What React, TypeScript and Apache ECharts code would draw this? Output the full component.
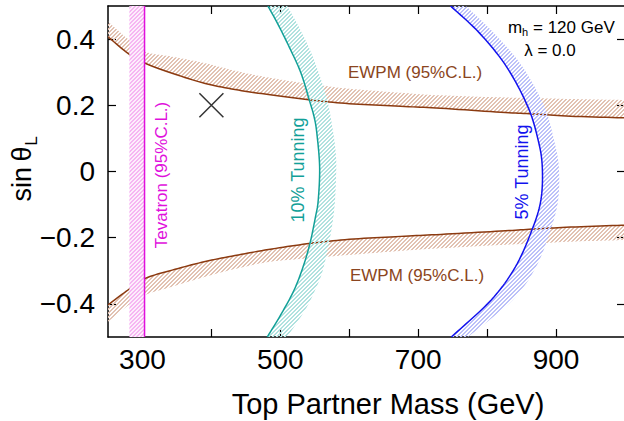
import React, { useEffect, useRef } from "react";
import * as echarts from "echarts";

// ---- axis ticks / labels ----
const xTickValues = [300, 400, 500, 600, 700, 800, 900];
const xLabelValues = [300, 500, 700, 900];
const yTickValues = [-0.4, -0.2, 0, 0.2, 0.4];

// ---- EWPM (95% C.L.) boundaries ----
const ewpmMass = [250, 279, 304, 343, 391, 439, 488, 544, 600, 674, 733, 820, 866, 921, 1000];
const ewpmUpperLine = [0.407, 0.357, 0.327, 0.297, 0.266, 0.246, 0.231, 0.216, 0.205, 0.197, 0.191, 0.179, 0.174, 0.167, 0.162];
const ewpmUpperEdge = [0.453, 0.4, 0.362, 0.347, 0.327, 0.302, 0.282, 0.264, 0.25, 0.238, 0.23, 0.224, 0.222, 0.219, 0.216];
const ewpmLowerLine = [-0.403, -0.358, -0.323, -0.298, -0.272, -0.252, -0.234, -0.217, -0.205, -0.196, -0.19, -0.18, -0.174, -0.168, -0.162];
const ewpmLowerEdge = [-0.454, -0.405, -0.373, -0.348, -0.318, -0.292, -0.272, -0.262, -0.252, -0.24, -0.232, -0.222, -0.218, -0.212, -0.207];

// ---- Tevatron (95% C.L.) ----
const tevatronBand = [281, 303];
const tevatronLine = 303;

// ---- 10% tuning ----
const tune10LineMass = [482, 497, 515, 530, 542, 549, 553, 557, 555, 551, 543, 533, 520, 502, 481];
const tune10LineSin = [0.5, 0.443, 0.367, 0.297, 0.216, 0.165, 0.115, 0.014, -0.086, -0.137, -0.217, -0.288, -0.358, -0.428, -0.5];
const tune10EdgeMass = [510, 526, 543, 557, 568, 575, 580, 581, 577, 563, 550, 536, 510];
const tune10EdgeSin = [0.5, 0.44, 0.367, 0.29, 0.216, 0.14, 0.065, -0.005, -0.137, -0.288, -0.36, -0.418, -0.5];

// ---- 5% tuning ----
const tune5LineMass = [747, 789, 828, 859, 874, 880, 878, 865, 841, 806, 748];
const tune5LineSin = [0.5, 0.418, 0.317, 0.196, 0.095, 0.014, -0.086, -0.177, -0.288, -0.388, -0.5];
const tune5EdgeMass = [769, 810, 851, 883, 897, 904, 903, 892, 871, 837, 772];
const tune5EdgeSin = [0.5, 0.418, 0.317, 0.196, 0.095, 0.014, -0.086, -0.177, -0.288, -0.388, -0.5];

// ---- benchmark point ----
const benchmarkPoint = [[400, 0.2]];

const FONT = "Liberation Sans";

const zip = (xs: number[], ys: number[]) => xs.map((x, i) => [x, ys[i]]);

// Catmull-Rom rendering of a pixel-space polyline (drawing only)
function spline(pts: number[][], seg = 10): number[][] {
  if (pts.length < 3) return pts;
  const out: number[][] = [];
  for (let i = 0; i < pts.length - 1; i++) {
    const p0 = pts[i - 1] || pts[i];
    const p1 = pts[i];
    const p2 = pts[i + 1];
    const p3 = pts[i + 2] || pts[i + 1];
    for (let s = 0; s < seg; s++) {
      const t = s / seg;
      const t2 = t * t;
      const t3 = t2 * t;
      const f = (a: number, b: number, c: number, d: number) =>
        0.5 * (2 * b + (-a + c) * t + (2 * a - 5 * b + 4 * c - d) * t2 + (-a + 3 * b - 3 * c + d) * t3);
      out.push([f(p0[0], p1[0], p2[0], p3[0]), f(p0[1], p1[1], p2[1], p3[1])]);
    }
  }
  out.push(pts[pts.length - 1]);
  return out;
}

// hatch fill pattern (diagonal strokes)
function hatch(color: string, bg: string | null, fallback: string): any {
  try {
    const c = document.createElement("canvas");
    c.width = 4;
    c.height = 4;
    const ctx = c.getContext("2d");
    if (!ctx) return fallback;
    if (bg) {
      ctx.fillStyle = bg;
      ctx.fillRect(0, 0, 4, 4);
    }
    ctx.fillStyle = color;
    for (let x = 0; x < 4; x++) {
      for (let y = 0; y < 4; y++) {
        const m = (x + y) % 4;
        if (m === 0 || m === 1) ctx.fillRect(x, y, 1, 1);
      }
    }
    return { image: c, repeat: "repeat" };
  } catch (e) {
    return fallback;
  }
}

function bandSeries(inner: number[][], outer: number[][], fill: any, z: number, smooth = true) {
  return {
    type: "custom",
    clip: true,
    z,
    silent: true,
    data: [inner[Math.floor(inner.length / 2)]],
    renderItem: (_p: any, api: any) => {
      const a = inner.map((p) => api.coord(p));
      const b = outer.map((p) => api.coord(p));
      const pa = smooth ? spline(a) : a;
      const pb = smooth ? spline(b) : b;
      const pts = [...pa, ...pb.slice().reverse()];
      return { type: "polygon", shape: { points: pts }, style: { fill, stroke: "none" } };
    },
  };
}

function curveSeries(data: number[][], color: string, z: number, smooth = true) {
  return {
    type: "custom",
    clip: true,
    z,
    silent: true,
    data: [data[Math.floor(data.length / 2)]],
    renderItem: (_p: any, api: any) => {
      const a = data.map((p) => api.coord(p));
      return {
        type: "polyline",
        shape: { points: smooth ? spline(a) : a },
        style: { stroke: color, lineWidth: 1.5, fill: "none" },
      };
    },
  };
}

export default function App() {
  const ref = useRef<HTMLDivElement>(null);
  useEffect(() => {
    if (!ref.current) return;
    const chart = echarts.init(ref.current, undefined, { renderer: "svg" });

    const brown = "#8b3a10";
    const magenta = "#e010dc";
    const teal = "#12a098";
    const blue = "#1212ee";

    const ewpmFill = hatch("rgb(226,194,178)", null, "rgba(190,130,100,0.25)");
    const tevFill = hatch("rgb(246,182,242)", "#fdeefc", "#f8d4f5");
    const t10Fill = hatch("rgb(176,226,223)", null, "rgba(60,185,180,0.22)");
    const t5Fill = hatch("rgb(188,193,249)", null, "rgba(90,100,240,0.21)");

    const axisCommon = {
      type: "value",
      splitLine: { show: false },
      axisLine: { show: true, onZero: false, lineStyle: { color: "#000", width: 1.5 } },
    };
    const tickStyle = { color: "#000", width: 1.2 };

    const option: any = {
      animation: false,
      textStyle: { fontFamily: FONT },
      grid: { left: 108, right: -1, top: 6, bottom: 84, containLabel: false, outerBoundsMode: "none" },
      xAxis: [
        {
          ...axisCommon,
          min: 250,
          max: 1000,
          position: "bottom",
          axisTick: { show: true, inside: true, length: 8, customValues: xTickValues, lineStyle: tickStyle },
          axisLabel: { show: true, customValues: xLabelValues, fontSize: 28, color: "#000", fontFamily: FONT, margin: 8 },
        },
        {
          ...axisCommon,
          min: 250,
          max: 1000,
          position: "top",
          axisTick: { show: true, inside: true, length: 8, customValues: xTickValues, lineStyle: tickStyle },
          axisLabel: { show: false },
        },
      ],
      yAxis: [
        {
          ...axisCommon,
          min: -0.5,
          max: 0.5,
          position: "left",
          axisTick: { show: true, inside: true, length: 8, customValues: yTickValues, lineStyle: tickStyle },
          axisLabel: {
            show: true,
            customValues: yTickValues,
            fontSize: 28,
            color: "#000",
            fontFamily: FONT,
            margin: 13,
            formatter: (v: number) => (Math.abs(v) < 1e-9 ? "0" : (v < 0 ? "\u2212" : "") + Math.abs(v).toFixed(1)),
          },
        },
        {
          ...axisCommon,
          min: -0.5,
          max: 0.5,
          position: "right",
          axisTick: { show: true, inside: true, length: 8, customValues: yTickValues, lineStyle: tickStyle },
          axisLabel: { show: false },
        },
      ],
      series: [
        bandSeries(zip(ewpmMass, ewpmUpperLine), zip(ewpmMass, ewpmUpperEdge), ewpmFill, 1),
        bandSeries(zip(ewpmMass, ewpmLowerLine), zip(ewpmMass, ewpmLowerEdge), ewpmFill, 1),
        curveSeries(zip(ewpmMass, ewpmUpperLine), brown, 2),
        curveSeries(zip(ewpmMass, ewpmLowerLine), brown, 2),
        bandSeries(
          [[tevatronBand[0], -0.5], [tevatronBand[0], 0.5]],
          [[tevatronBand[1], -0.5], [tevatronBand[1], 0.5]],
          tevFill,
          3,
          false
        ),
        curveSeries([[tevatronLine, -0.5], [tevatronLine, 0.5]], magenta, 4, false),
        bandSeries(zip(tune10LineMass, tune10LineSin), zip(tune10EdgeMass, tune10EdgeSin), t10Fill, 3),
        curveSeries(zip(tune10LineMass, tune10LineSin), teal, 4),
        bandSeries(zip(tune5LineMass, tune5LineSin), zip(tune5EdgeMass, tune5EdgeSin), t5Fill, 3),
        curveSeries(zip(tune5LineMass, tune5LineSin), blue, 4),
        {
          type: "scatter",
          data: benchmarkPoint,
          z: 5,
          silent: true,
          symbol: "path://M0 0L10 10M10 0L0 10",
          symbolSize: 24,
          itemStyle: { color: "none", borderColor: "#000", borderWidth: 1.5 },
        },
      ],
      graphic: [
        { type: "text", x: 161, y: 175, rotation: Math.PI / 2, silent: true,
          style: { text: "Tevatron (95%C.L.)", fill: magenta, font: `17px "${FONT}"`, align: "center", verticalAlign: "middle" } },
        { type: "text", x: 298, y: 170, rotation: Math.PI / 2, silent: true,
          style: { text: "10% Tunning", fill: teal, font: `18px "${FONT}"`, align: "center", verticalAlign: "middle" } },
        { type: "text", x: 522, y: 172, rotation: Math.PI / 2, silent: true,
          style: { text: "5% Tunning", fill: blue, font: `18px "${FONT}"`, align: "center", verticalAlign: "middle" } },
        { type: "text", x: 415, y: 72, silent: true,
          style: { text: "EWPM (95%C.L.)", fill: "#8b4520", font: `17px "${FONT}"`, align: "center", verticalAlign: "middle" } },
        { type: "text", x: 417, y: 275, silent: true,
          style: { text: "EWPM (95%C.L.)", fill: "#8b4520", font: `17px "${FONT}"`, align: "center", verticalAlign: "middle" } },
        { type: "text", x: 508, y: 27, silent: true,
          style: { text: "m", fill: "#000", font: `17px "${FONT}"`, align: "left", verticalAlign: "middle" } },
        { type: "text", x: 522, y: 32, silent: true,
          style: { text: "h", fill: "#000", font: `11px "${FONT}"`, align: "left", verticalAlign: "middle" } },
        { type: "text", x: 533, y: 27, silent: true,
          style: { text: "= 120 GeV", fill: "#000", font: `17px "${FONT}"`, align: "left", verticalAlign: "middle" } },
        { type: "text", x: 550, y: 50, silent: true,
          style: { text: "\u03bb = 0.0", fill: "#000", font: `17px "${FONT}"`, align: "center", verticalAlign: "middle" } },
        { type: "text", x: 388, y: 404, silent: true,
          style: { text: "Top Partner Mass (GeV)", fill: "#000", font: `29px "${FONT}"`, align: "center", verticalAlign: "middle" } },
        { type: "text", x: 22, y: 174, rotation: Math.PI / 2, silent: true,
          style: { text: "sin\u2009\u03b8", fill: "#000", font: `27px "${FONT}"`, align: "center", verticalAlign: "middle" } },
        { type: "text", x: 31, y: 141, rotation: Math.PI / 2, silent: true,
          style: { text: "L", fill: "#000", font: `17px "${FONT}"`, align: "center", verticalAlign: "middle" } },
      ],
    };

    chart.setOption(option);
    return () => chart.dispose();
  }, []);

  return <div ref={ref} style={{ position: "absolute", left: 0, top: 0, width: 624, height: 421 }} />;
}
